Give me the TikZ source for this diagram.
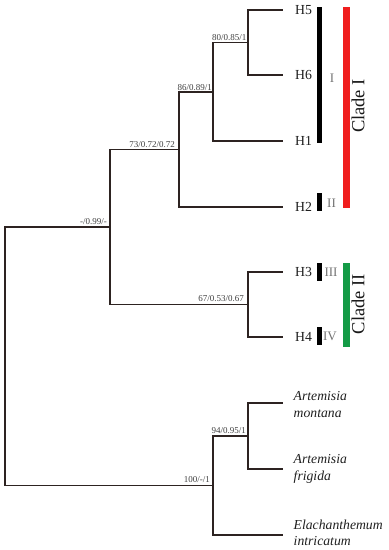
\documentclass[tikz,border=0pt]{standalone}
\usepackage{fontspec}
\setmainfont{Liberation Serif}
\definecolor{treecol}{RGB}{45,35,33}
\definecolor{cladered}{RGB}{240,30,30}
\definecolor{cladegreen}{RGB}{20,155,70}
\begin{document}
\begin{tikzpicture}[x=1pt,y=-1pt,
  branch/.style={draw=treecol,line width=1.2pt},
  tiplabel/.style={anchor=west,inner sep=0pt,text=black!88,font=\fontsize{13.8}{16}\selectfont},
  splabel/.style={anchor=west,inner sep=0pt,align=left,text=black!88,font=\fontsize{13.7}{16.5}\selectfont\itshape},
  supp/.style={anchor=south east,inner sep=0pt,text=black!75,font=\fontsize{9}{10}\selectfont},
  grpbar/.style={line width=4.5pt},
  cladebar/.style={line width=7pt},
  roman/.style={inner sep=0pt,text=black!55,font=\fontsize{13}{14}\selectfont},
  cladelabel/.style={rotate=90,inner sep=0pt,text=black!90,font=\fontsize{18.5}{20}\selectfont}]
\useasboundingbox (0,0) rectangle (389,550);
% internal nodes
\coordinate (root) at (5,356);
\coordinate (nA) at (110,227);
\coordinate (n2) at (179,149.5);
\coordinate (n1) at (213,92);
\coordinate (n56) at (248,42.5);
\coordinate (n34) at (248,304.5);
\coordinate (nO) at (213,485.5);
\coordinate (nAr) at (248,436);
% tips
\coordinate (tH5) at (283,10);
\coordinate (tH6) at (283,75);
\coordinate (tH1) at (283,141);
\coordinate (tH2) at (283,207);
\coordinate (tH3) at (283,272);
\coordinate (tH4) at (283,337);
\coordinate (tAm) at (283,403);
\coordinate (tAf) at (283,469);
\coordinate (tEi) at (283,535);
% branches
\draw[branch] (root) |- (nA);
\draw[branch] (root) |- (nO);
\draw[branch] (nA) |- (n2);
\draw[branch] (nA) |- (n34);
\draw[branch] (n2) |- (n1);
\draw[branch] (n2) |- (tH2);
\draw[branch] (n1) |- (n56);
\draw[branch] (n1) |- (tH1);
\draw[branch] (n56) |- (tH5);
\draw[branch] (n56) |- (tH6);
\draw[branch] (n34) |- (tH3);
\draw[branch] (n34) |- (tH4);
\draw[branch] (nO) |- (nAr);
\draw[branch] (nO) |- (tEi);
\draw[branch] (nAr) |- (tAm);
\draw[branch] (nAr) |- (tAf);
% tip labels
\node[tiplabel] (H5) at ([xshift=12pt]tH5) {H5};
\node[tiplabel] (H6) at ([xshift=12pt]tH6) {H6};
\node[tiplabel] (H1) at ([xshift=12pt]tH1) {H1};
\node[tiplabel] (H2) at ([xshift=12pt]tH2) {H2};
\node[tiplabel] (H3) at ([xshift=12pt]tH3) {H3};
\node[tiplabel] (H4) at ([xshift=12pt]tH4) {H4};
\node[splabel] (Am) at ([xshift=10.5pt,yshift=-1.5pt]tAm) {Artemisia\\montana};
\node[splabel] (Af) at ([xshift=10.5pt]tAf) {Artemisia\\frigida};
\node[splabel] (Ei) at ([xshift=10.5pt,yshift=2pt]tEi) {Elachanthemum\\intricatum};
% support values
\node[supp] (s56) at ([xshift=-1.5pt,yshift=1.5pt]n56) {80/0.85/1};
\node[supp] (s1) at ([xshift=-1pt,yshift=1.5pt]n1) {86/0.89/1};
\node[supp] (s2) at ([xshift=-4pt,yshift=1.5pt]n2) {73/0.72/0.72};
\node[supp] (sA) at ([xshift=-3pt,yshift=2.5pt]nA) {-/0.99/-};
\node[supp] (s34) at ([xshift=-4pt,yshift=2.5pt]n34) {67/0.53/0.67};
\node[supp] (sAr) at ([xshift=-2pt,yshift=2.5pt]nAr) {94/0.95/1};
\node[supp] (sO) at ([xshift=-3pt,yshift=2.5pt]nO) {100/-/1};
% group bars
\draw[grpbar,black] (319.5,7) -- (319.5,143);
\draw[grpbar,black] (319.5,193) -- (319.5,211);
\draw[grpbar,black] (319.5,263) -- (319.5,281);
\draw[grpbar,black] (319.5,327) -- (319.5,345);
\node[roman] (rI) at (332,78) {I};
\node[roman] (rII) at (331.5,203) {II};
\node[roman] (rIII) at (331,272) {III};
\node[roman] (rIV) at (330,336) {IV};
% clade bars
\draw[cladebar,cladered] (346.5,7) -- (346.5,208);
\draw[cladebar,cladegreen] (346.5,263) -- (346.5,347);
\node[cladelabel] (c1) at (358,106) {Clade I};
\node[cladelabel] (c2) at (358,304) {Clade II};
\end{tikzpicture}
\end{document}
